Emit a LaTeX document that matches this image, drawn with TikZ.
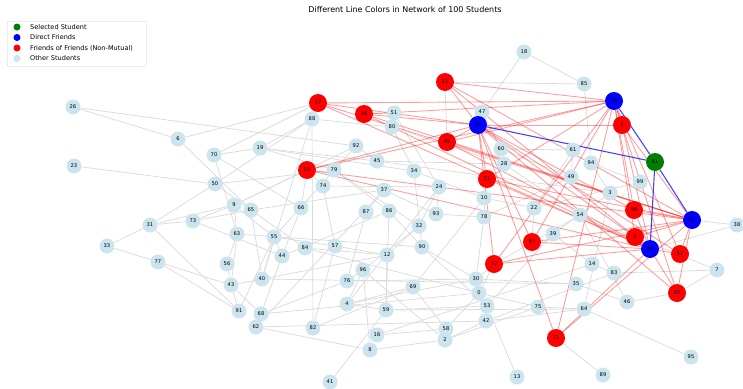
\documentclass[tikz,border=0pt]{standalone}
\usepackage{fontspec}
\setmainfont{DejaVu Sans}
\usetikzlibrary{backgrounds}
\definecolor{lightstud}{RGB}{203,228,237}
\definecolor{selgreen}{RGB}{0,128,0}
\tikzset{
  student/.style={circle, inner sep=0pt, font=\fontsize{4.4}{4.4}\selectfont, text=black},
  other/.style={student, fill=lightstud, minimum size=0.45cm},
  friend/.style={student, fill=blue, minimum size=0.54cm},
  fof/.style={student, fill=red, minimum size=0.54cm},
  selected/.style={student, fill=selgreen, minimum size=0.54cm},
  grayedge/.style={draw=black!15, line width=0.6pt},
  rededge/.style={draw=red, opacity=0.38, line width=0.75pt},
  blueedge/.style={draw=blue, opacity=0.75, line width=0.9pt},
  legdot/.style={circle, inner sep=0pt, minimum size=0.21cm},
  legtext/.style={anchor=west, inner sep=0pt, font=\fontsize{5.6}{6}\selectfont}
}
\begin{document}
\begin{tikzpicture}[x=0.03cm, y=-0.03cm]
    \useasboundingbox (0,0) rectangle (743,389);
    \node (title) at (405,10) {\fontsize{6.8}{7}\selectfont Different Line Colors in Network of 100 Students};

    % other students
    \foreach \n/\x/\y in {0/479/293, 2/445/340, 3/610/193, 4/347/304, 6/178/139, 7/717/270, 8/370/350,
        9/234/205, 10/484/198, 12/387/255, 13/517/377, 14/592/264, 16/377/335, 18/524/52, 19/260/148,
        22/534/208, 23/74/166, 24/439/187, 26/73/107, 28/504/164, 30/476/279, 31/150/225, 32/419/226,
        33/107/246, 34/414/171, 35/576/284, 37/384/190, 38/737/225, 39/553/234, 40/262/279, 41/330/382,
        42/486/321, 43/231/285, 44/282/256, 45/377/161, 46/627/302, 47/482/112, 49/571/177, 50/215/184,
        51/394/113, 53/487/306, 54/580/215, 55/274/237, 56/227/264, 57/335/246, 58/446/329, 59/386/310,
        60/501/149, 61/573/150, 62/256/327, 63/237/234, 64/584/309, 65/251/210, 66/301/208, 68/261/314,
        69/413/287, 70/214/155, 73/193/221, 74/323/186, 75/538/307, 76/347/281, 77/158/262, 78/484/217,
        79/334/170, 80/392/127, 82/313/328, 83/614/273, 84/305/248, 85/584/84, 86/389/211, 87/366/212,
        88/312/119, 89/603/375, 90/422/247, 91/239/311, 92/356/146, 93/436/214, 94/591/163, 95/691/357,
        96/363/270, 99/640/182}
        \node[other] (n\n) at (\x,\y) {\n};

    % friends of friends
    \foreach \n/\x/\y in {1/622/125, 5/635/237, 11/487/179, 15/307/170, 17/318/103, 20/677/293,
        21/445/82, 36/364/114, 48/447/142, 52/680/254, 71/556/338, 72/494/264, 97/532/242, 98/634/210}
        \node[fof] (n\n) at (\x,\y) {\n};

    % direct friends and selected student
    \foreach \n/\x/\y in {25/692/220, 27/478/125, 29/614/101, 67/650/249}
        \node[friend] (n\n) at (\x,\y) {\n};
    \node[selected] (n81) at (655,162) {81};

    \begin{pgfonlayer}{background}
        \foreach \a/\b in {26/6, 26/92, 6/17, 6/65, 23/50, 70/17, 70/66, 70/63, 70/19, 50/31, 50/79,
            50/65, 50/88, 9/73, 9/63, 9/55, 9/92, 73/31, 73/44, 73/65, 31/33, 31/91, 31/9, 33/77,
            77/43, 77/91, 63/56, 63/43, 63/90, 56/43, 43/91, 43/68, 43/12, 91/55, 65/40, 65/84, 65/37,
            55/44, 55/40, 55/57, 44/68, 44/86, 66/44, 66/15, 74/57, 74/24, 19/88, 19/45, 19/79, 19/34,
            88/40, 88/82, 88/80, 51/80, 51/36, 51/24, 80/28, 80/34, 92/45, 92/55, 45/28, 45/3, 79/86,
            79/32, 37/87, 37/93, 37/62, 34/10, 34/90, 24/93, 24/4, 24/32, 86/90, 86/59, 87/76, 93/78,
            32/12, 32/96, 90/30, 90/53, 12/59, 12/57, 12/84, 57/82, 84/0, 96/4, 96/8, 96/76, 96/2,
            76/68, 76/30, 69/58, 69/10, 69/4, 4/59, 4/30, 59/41, 59/53, 59/64, 82/69, 62/8, 62/42,
            68/0, 40/35, 8/2, 16/58, 16/14, 58/0, 2/42, 2/75, 30/35, 0/75, 53/13, 53/39, 42/64, 42/83,
            47/18, 18/85, 85/21, 85/94, 61/22, 61/60, 60/49, 28/54, 94/3, 49/78, 99/22, 3/39, 22/10,
            54/72, 54/46, 39/14, 14/83, 83/7, 35/46, 75/64, 64/95, 71/89, 7/20, 7/54, 25/38, 38/67,
            46/20, 10/78, 78/30, 72/30, 99/94, 61/49, 47/60, 3/64, 17/88, 15/74, 15/9, 11/10, 72/0,
            97/22, 21/48}
            \draw[grayedge] (n\a) -- (n\b);
        \foreach \b in {25,27,29,67}
            \foreach \r in {1,5,11,15,17,20,21,36,48,52,71,72,97,98}
                \draw[rededge] (n\b) -- (n\r);
        \foreach \b in {25,27,29,67}
            \draw[blueedge] (n81) -- (n\b);
    \end{pgfonlayer}

    % legend
    \node (legbox) [draw=black!20, fill=white, rounded corners=1pt, anchor=north west,
        minimum width=4.17cm, minimum height=1.35cm] at (7,21) {};
    \node[legdot, fill=selgreen] (legsel) at (17,27) {};
    \node[legdot, fill=blue] (legfriend) at (17,37.5) {};
    \node[legdot, fill=red] (legfof) at (17,48) {};
    \node[legdot, fill=lightstud] (legother) at (17,58.5) {};
    \node[legtext] (legselt) at (30,27) {Selected Student};
    \node[legtext] (legfriendt) at (30,37.5) {Direct Friends};
    \node[legtext] (legfoft) at (30,48) {Friends of Friends (Non-Mutual)};
    \node[legtext] (legothert) at (30,58.5) {Other Students};
\end{tikzpicture}
\end{document}
